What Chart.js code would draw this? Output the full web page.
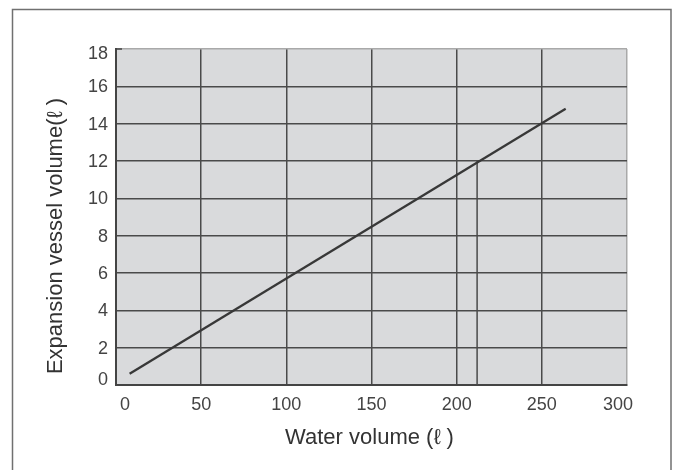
<!DOCTYPE html>
<html>
<head>
<meta charset="utf-8">
<script src="https://cdn.jsdelivr.net/npm/chart.js@4.4.1/dist/chart.umd.min.js"></script>
<style>
  html, body { margin: 0; padding: 0; background: #fff; }
  #wrap { width: 674px; height: 470px; position: relative; }
</style>
</head>
<body>
<div id="wrap"><canvas id="grafico"></canvas></div>
<script>
// datos
const waterVolume = [8, 264];
const vesselVolume = [0.6, 14.8];
const readingX = [212, 212];
const readingY = [0, 12];
const xTickValues = [0, 50, 100, 150, 200, 250, 300];
const yTickValues = [0, 2, 4, 6, 8, 10, 12, 14, 16, 18];
const xTitle = 'Water volume (\u2113 )';
const yTitle = 'Expansion vessel volume(\u2113 )';

const FONT = '"Liberation Sans", Arial, sans-serif';
const GRID = '#4a4a4a';
const EDGE = '#a9a9a9';

const toPoints = (xs, ys) => xs.map((x, i) => ({ x: x, y: ys[i] }));

// fondo, marco exterior, etiquetas y titulos
const decoPlugin = {
    id: 'deco',
    beforeDraw(chart) {
        const { ctx, chartArea: a } = chart;
        ctx.save();
        ctx.strokeStyle = '#707070';
        ctx.lineWidth = 1.5;
        ctx.beginPath();
        ctx.moveTo(12.5, 470);
        ctx.lineTo(12.5, 9.5);
        ctx.lineTo(671, 9.5);
        ctx.lineTo(671, 470);
        ctx.stroke();
        ctx.fillStyle = '#d9dadc';
        ctx.fillRect(a.left, a.top, a.right - a.left, a.bottom - a.top);
        ctx.restore();
    },
    afterDraw(chart) {
        const { ctx, chartArea: a } = chart;
        const xs = chart.scales.x;
        const ys = chart.scales.y;
        ctx.save();
        ctx.fillStyle = '#444';
        ctx.font = '18px ' + FONT;

        // eje x
        ctx.textAlign = 'center';
        ctx.textBaseline = 'middle';
        xTickValues.forEach((v, i) => {
            let px = xs.getPixelForValue(v);
            if (i === 0) px += 9;
            if (i === xTickValues.length - 1) px -= 9;
            ctx.fillText(String(v), px, a.bottom + 20);
        });

        // eje y
        ctx.textAlign = 'right';
        yTickValues.forEach((v, i) => {
            let py = ys.getPixelForValue(v) + 1;
            if (i === 0) py -= 6;
            if (i === yTickValues.length - 1) py += 4;
            ctx.fillText(String(v), a.left - 8, py);
        });

        // top-left stub of the frame
        ctx.strokeStyle = '#444';
        ctx.lineWidth = 1.5;
        ctx.beginPath();
        ctx.moveTo(a.left, a.top);
        ctx.lineTo(a.left + 6, a.top);
        ctx.stroke();

        // titulos
        ctx.fillStyle = '#333';
        ctx.font = '22px ' + FONT;
        ctx.textAlign = 'center';
        ctx.fillText(xTitle, (a.left + a.right) / 2 - 2, 438);
        ctx.translate(56, 236);
        ctx.rotate(-Math.PI / 2);
        ctx.fillText(yTitle, 0, 0);
        ctx.restore();
    }
};

const grafico = document.getElementById('grafico').getContext('2d');

window.graficaVaso = new Chart(grafico, {
    type: 'scatter',
    data: {
        datasets: [{
            data: toPoints(waterVolume, vesselVolume),
            showLine: true,
            borderColor: '#383838',
            borderWidth: 2.3,
            pointRadius: 0
        }, {
            data: toPoints(readingX, readingY),
            showLine: true,
            borderColor: GRID,
            borderWidth: 1.5,
            pointRadius: 0
        }]
    },
    options: {
        responsive: true,
        maintainAspectRatio: false,
        animation: false,
        events: [],
        layout: {
            padding: { left: 116, right: 47, top: 49, bottom: 85 }
        },
        plugins: {
            legend: { display: false },
            tooltip: { enabled: false }
        },
        scales: {
            x: {
                type: 'linear',
                min: 0,
                max: 300,
                afterFit: (s) => { s.height = 0; },
                ticks: { display: false, stepSize: 50 },
                grid: {
                    drawTicks: false,
                    lineWidth: 1.5,
                    color: (c) => (c.tick && c.tick.value === 300) ? EDGE : GRID
                },
                border: { color: '#444', width: 2 }
            },
            y: {
                min: 0,
                max: 18,
                afterFit: (s) => { s.width = 0; },
                ticks: { display: false, stepSize: 2 },
                grid: {
                    drawTicks: false,
                    lineWidth: 1.5,
                    color: (c) => (c.tick && c.tick.value === 18) ? EDGE : GRID
                },
                border: { color: '#444', width: 2 }
            }
        }
    },
    plugins: [decoPlugin]
});
</script>
</body>
</html>
